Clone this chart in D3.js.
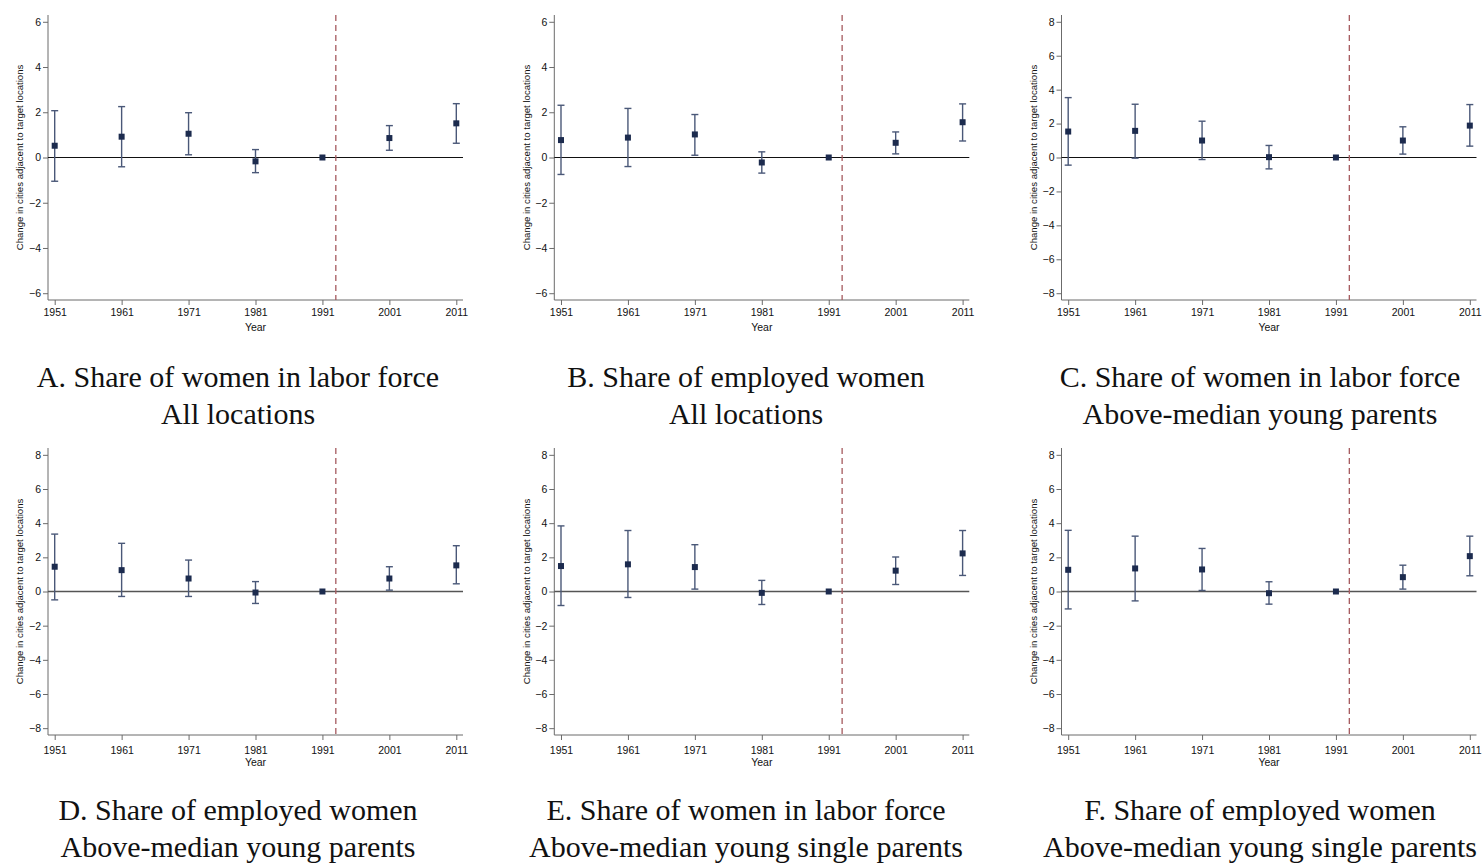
<!DOCTYPE html>
<html>
<head>
<meta charset="utf-8">
<script src="https://cdn.jsdelivr.net/npm/d3@7"></script>
<style>
  body { margin: 0; background: #fff; }
  svg { display: block; }
</style>
</head>
<body>
<svg id="chart" width="1482" height="865"></svg>
<script>
// Census years and the policy year marked by the dashed line
const years = [1951, 1961, 1971, 1981, 1991, 2001, 2011];
const treatYear = 1993;
const yTicksSmall = [-6, -4, -2, 0, 2, 4, 6];
const yTicksLarge = [-8, -6, -4, -2, 0, 2, 4, 6, 8];
const yLabel = "Change in cities adjacent to target locations";
const xLabel = "Year";

// Point estimates and 95% confidence bounds, one set per panel
const estA = [0.52, 0.92, 1.05, -0.17, 0, 0.86, 1.51];
const loA  = [-1.05, -0.41, 0.12, -0.67, 0, 0.32, 0.63];
const hiA  = [2.07, 2.25, 1.98, 0.35, 0, 1.41, 2.38];

const estB = [0.77, 0.88, 1.02, -0.22, 0, 0.65, 1.56];
const loB  = [-0.75, -0.40, 0.10, -0.69, 0, 0.16, 0.73];
const hiB  = [2.31, 2.17, 1.90, 0.25, 0, 1.13, 2.37];

const estC = [1.53, 1.57, 1.00, 0.02, 0, 1.00, 1.88];
const loC  = [-0.45, -0.04, -0.12, -0.67, 0, 0.20, 0.67];
const hiC  = [3.53, 3.14, 2.14, 0.71, 0, 1.81, 3.12];

const estD = [1.45, 1.25, 0.76, -0.06, 0, 0.76, 1.53];
const loD  = [-0.49, -0.29, -0.29, -0.70, 0, 0.08, 0.45];
const hiD  = [3.36, 2.82, 1.84, 0.58, 0, 1.45, 2.68];

const estE = [1.49, 1.59, 1.43, -0.08, 0, 1.22, 2.23];
const loE  = [-0.82, -0.35, 0.14, -0.76, 0, 0.41, 0.94];
const hiE  = [3.84, 3.57, 2.74, 0.65, 0, 2.02, 3.57];

const estF = [1.27, 1.35, 1.29, -0.10, 0, 0.84, 2.07];
const loF  = [-1.02, -0.55, 0.06, -0.74, 0, 0.14, 0.92];
const hiF  = [3.58, 3.24, 2.52, 0.57, 0, 1.54, 3.24];

const panels = [
  { est: estA, lo: loA, hi: hiA, ticks: yTicksSmall, lim: 6.3, col: 0, row: 0,
    title: "A. Share of women in labor force", sub: "All locations" },
  { est: estB, lo: loB, hi: hiB, ticks: yTicksSmall, lim: 6.3, col: 1, row: 0,
    title: "B. Share of employed women", sub: "All locations" },
  { est: estC, lo: loC, hi: hiC, ticks: yTicksLarge, lim: 8.4, col: 2, row: 0,
    title: "C. Share of women in labor force", sub: "Above-median young parents" },
  { est: estD, lo: loD, hi: hiD, ticks: yTicksLarge, lim: 8.4, col: 0, row: 1,
    title: "D. Share of employed women", sub: "Above-median young parents" },
  { est: estE, lo: loE, hi: hiE, ticks: yTicksLarge, lim: 8.4, col: 1, row: 1,
    title: "E. Share of women in labor force", sub: "Above-median young single parents" },
  { est: estF, lo: loF, hi: hiF, ticks: yTicksLarge, lim: 8.4, col: 2, row: 1,
    title: "F. Share of employed women", sub: "Above-median young single parents" }
];

// Layout of the 3 x 2 grid
const colLeft = [48, 554.3, 1061.5];
const plotW = 415;
const rowTop = [15, 448];
const rowBottom = [300, 735];
const tickPad = [4, 7];
const captionX = [238, 746, 1260];
const captionY = [387, 820];
const captionGap = 37;

const svg = d3.select("#chart");
const axisColor = "#6b6b6b";
const markColor = "#1c2b4e";
const barColor = "#4a5878";
const refColor = "#a55a5e";
const sans = "'Liberation Sans', Arial, Helvetica, sans-serif";

panels.forEach(p => {
  const x0 = colLeft[p.col], x1 = x0 + plotW;
  const yTop = rowTop[p.row], yBot = rowBottom[p.row];
  const x = d3.scaleLinear().domain([1950, 2012]).range([x0, x1]);
  const y = d3.scaleLinear().domain([-p.lim, p.lim]).range([yBot, yTop]);
  const g = svg.append("g");

  // y axis
  const yAxis = g.append("g")
    .attr("transform", `translate(${x0},0)`)
    .call(d3.axisLeft(y).tickValues(p.ticks).tickSize(5).tickPadding(2).tickFormat(d3.format("d")));
  // x axis
  const xAxis = g.append("g")
    .attr("transform", `translate(0,${yBot})`)
    .call(d3.axisBottom(x).tickValues(years).tickSize(5).tickPadding(tickPad[p.row]).tickFormat(d3.format("d")));
  [yAxis, xAxis].forEach(a => {
    a.select(".domain").attr("stroke", axisColor).attr("stroke-width", 1).attr("d",
      a === yAxis ? `M0,${yTop}V${yBot}` : `M${x0},0H${x1}`);
    a.selectAll(".tick line").attr("stroke", axisColor);
    a.selectAll(".tick text").attr("fill", "#111").style("font-family", sans).style("font-size", "10.5px");
  });
  xAxis.selectAll(".tick text").attr("dy", "0.71em");

  // axis titles
  g.append("text")
    .attr("transform", `translate(${x0 - 28},${(yTop + yBot) / 2}) rotate(-90)`)
    .attr("text-anchor", "middle").attr("dy", "0.35em")
    .style("font-family", sans).style("font-size", "9.6px").attr("fill", "#111")
    .text(yLabel);
  g.append("text")
    .attr("x", (x0 + x1) / 2).attr("y", yBot + 31)
    .attr("text-anchor", "middle")
    .style("font-family", sans).style("font-size", "10.5px").attr("fill", "#111")
    .text(xLabel);

  // zero reference line
  g.append("line")
    .attr("x1", x0).attr("x2", x1).attr("y1", y(0)).attr("y2", y(0))
    .attr("stroke", p.row === 0 ? "#111" : "#555").attr("stroke-width", p.row === 0 ? 1.2 : 1.6);

  // dashed policy line
  g.append("line")
    .attr("x1", x(treatYear)).attr("x2", x(treatYear)).attr("y1", yTop).attr("y2", yBot)
    .attr("stroke", refColor).attr("stroke-width", 1.3).attr("stroke-dasharray", "6,4");

  // confidence intervals
  const rows = years.map((yr, i) => ({ yr, est: p.est[i], lo: p.lo[i], hi: p.hi[i] }));
  const ci = g.append("g").selectAll("g").data(rows.filter(d => d.hi !== d.lo)).join("g")
    .attr("stroke", barColor).attr("stroke-width", 1.4);
  ci.append("line").attr("x1", d => x(d.yr)).attr("x2", d => x(d.yr))
    .attr("y1", d => y(d.lo)).attr("y2", d => y(d.hi));
  ci.append("line").attr("x1", d => x(d.yr) - 3.5).attr("x2", d => x(d.yr) + 3.5)
    .attr("y1", d => y(d.hi)).attr("y2", d => y(d.hi));
  ci.append("line").attr("x1", d => x(d.yr) - 3.5).attr("x2", d => x(d.yr) + 3.5)
    .attr("y1", d => y(d.lo)).attr("y2", d => y(d.lo));

  // point estimates
  g.append("g").selectAll("rect").data(rows).join("rect")
    .attr("x", d => x(d.yr) - 3).attr("y", d => y(d.est) - 3)
    .attr("width", 6).attr("height", 6).attr("fill", markColor);

  // caption
  const cap = svg.append("text")
    .attr("text-anchor", "middle")
    .style("font-family", "'Liberation Serif', 'Times New Roman', serif")
    .style("font-size", "30px").attr("fill", "#111");
  cap.append("tspan").attr("x", captionX[p.col]).attr("y", captionY[p.row]).text(p.title);
  cap.append("tspan").attr("x", captionX[p.col]).attr("y", captionY[p.row] + captionGap).text(p.sub);
});
</script>
</body>
</html>
